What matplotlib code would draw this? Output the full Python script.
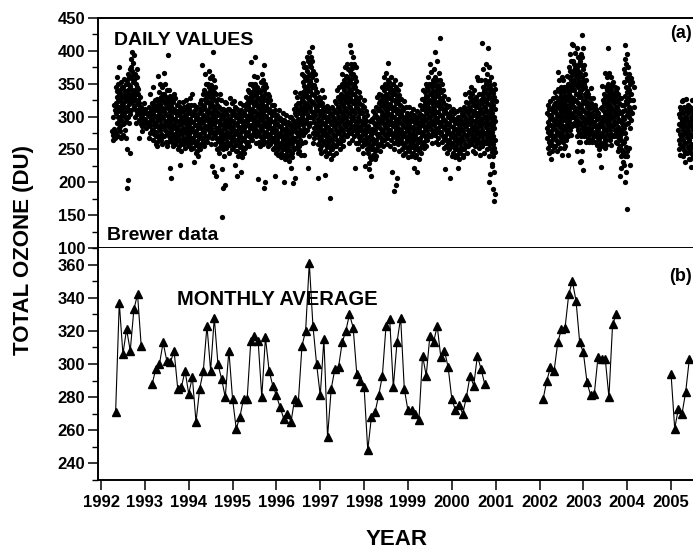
import numpy as np
import matplotlib
matplotlib.use("Agg")
import matplotlib.pyplot as plt
from matplotlib.ticker import MultipleLocator

plt.rcParams['font.family'] = ['Liberation Sans', 'DejaVu Sans']
plt.rcParams['font.weight'] = 'bold'

# ---------------- data ----------------
# Monthly averages (DU); None = missing month
monthly_a_start = (1992, 5)   # May 1992
monthly_a = [271, 337, 306, 321, 308, 333, 342, 311, None, None,
             288, 297, 300, 313, 302, 301, 308, 285, 286, 296, 282, 292,
             265, 285, 296, 323, 296, 328, 300, 291, 280, 308, 279, 261,
             268, 279, 279, 314, 317, 314, 280, 316, 296, 287, 281, 274,
             267, 270, 265, 279, 277, 311, 320, 361, 323, 300, 281, 315,
             256, 285, 297, 298, 313, 320, 330, 322, 294, 290, 286, 248,
             268, 271, 281, 293, 323, 327, 286, 313, 328, 285, 272, 272,
             270, 266, 305, 293, 317, 313, 323, 304, 308, 298, 279, 272,
             275, 270, 280, 293, 287, 305, 297, 288]
monthly_b_start = (2002, 2)   # Feb 2002
monthly_b = [279, 290, 298, 296, 313, 321, 322, 342, 350, 338, 313, 307,
             289, 281, 282, 304, 303, 303, 280, 324, 330]
monthly_c_start = (2005, 1)   # Jan 2005
monthly_c = [294, 261, 273, 270, 283, 303]

# Daily values (DU) as read from the dot cloud, grouped by month
daily_a_start = (1992, 4)     # Apr 1992 .. Dec 2000
daily_a = [
    [265, 268, 270, 272, 274, 276, 278, 281, 300, 310, 318],
    [290, 294, 300, 305, 309, 315, 320, 324, 330, 335, 339, 345, 350, 360, 375, 270, 276, 282],
    [285, 289, 295, 300, 304, 310, 315, 319, 325, 330, 334, 340, 345, 352, 272, 268, 278],
    [290, 294, 300, 305, 309, 315, 320, 324, 330, 335, 339, 345, 350, 357, 268, 280],
    [300, 304, 310, 315, 319, 325, 330, 334, 340, 345, 349, 355, 360, 365, 372, 290, 250, 244, 203, 191],
    [310, 316, 322, 328, 334, 340, 346, 352, 358, 364, 370, 376, 382, 388, 394, 398],
    [300, 304, 310, 315, 319, 325, 330, 334, 340, 345, 349, 355, 360, 365, 372, 290],
    [295, 300, 305, 310, 315, 320, 325, 330, 335, 288, 267, 342],
    [285, 290, 295, 300, 305, 310, 315, 320, 278],
    # 1993
    [282, 287, 292, 297, 302, 307, 312],
    [275, 280, 285, 290, 295, 300, 305, 310, 315, 320, 335, 268],
    [265, 270, 274, 280, 285, 289, 295, 300, 304, 310, 315, 319, 325, 345, 258],
    [262, 267, 271, 277, 282, 286, 292, 297, 301, 307, 312, 316, 322, 327, 338, 361, 255],
    [265, 270, 274, 280, 285, 289, 295, 300, 304, 310, 315, 319, 325, 330, 335, 345, 350, 258],
    [270, 275, 279, 285, 290, 294, 300, 305, 309, 315, 320, 324, 330, 335, 340, 350, 366, 262],
    [262, 267, 271, 277, 282, 286, 292, 297, 301, 307, 312, 316, 322, 327, 332, 340, 255, 221, 394],
    [262, 267, 271, 277, 282, 286, 292, 297, 301, 307, 312, 316, 322, 327, 335, 255, 206],
    [258, 263, 267, 273, 278, 282, 288, 293, 297, 303, 308, 312, 318, 328, 250],
    [255, 260, 264, 270, 275, 279, 285, 290, 294, 300, 305, 309, 315, 322, 248, 226],
    [258, 263, 267, 273, 278, 282, 288, 293, 297, 303, 308, 312, 315, 322, 252],
    [260, 265, 269, 275, 280, 284, 290, 295, 299, 305, 310, 314, 318, 325, 255],
    # 1994
    [258, 263, 267, 273, 278, 282, 288, 293, 297, 303, 308, 312, 318, 328, 335, 250],
    [252, 257, 261, 267, 272, 276, 282, 287, 291, 297, 302, 306, 310, 318, 245, 231],
    [248, 253, 257, 263, 268, 272, 278, 283, 287, 293, 298, 302, 305, 315, 320, 240],
    [258, 263, 267, 273, 278, 282, 288, 293, 297, 303, 308, 312, 318, 325, 335, 378, 250],
    [262, 267, 271, 277, 282, 286, 292, 297, 301, 307, 312, 316, 322, 327, 331, 337, 340, 350, 365, 255],
    [270, 275, 279, 285, 290, 294, 300, 305, 309, 315, 320, 324, 330, 335, 339, 345, 350, 358, 370, 262],
    [268, 273, 277, 283, 288, 292, 298, 303, 307, 313, 318, 322, 328, 333, 337, 343, 348, 355, 362, 258, 399, 225, 215],
    [258, 263, 267, 273, 278, 282, 288, 293, 297, 303, 308, 312, 318, 323, 327, 335, 345, 250, 210],
    [252, 257, 261, 267, 272, 276, 282, 287, 291, 297, 302, 306, 312, 315, 325, 335, 245],
    [250, 255, 259, 265, 270, 274, 280, 285, 289, 295, 300, 304, 310, 312, 322, 240, 220, 196, 191, 147],
    [252, 257, 261, 267, 272, 276, 282, 287, 291, 297, 302, 306, 312, 320, 245],
    [258, 263, 267, 273, 278, 282, 288, 293, 297, 303, 308, 312, 320, 328, 250],
    # 1995
    [255, 260, 264, 270, 275, 279, 285, 290, 294, 300, 305, 309, 315, 323, 248, 226],
    [248, 253, 257, 263, 268, 272, 278, 283, 287, 293, 298, 302, 305, 312, 320, 240, 210],
    [245, 250, 254, 260, 265, 269, 275, 280, 284, 290, 295, 299, 302, 310, 318, 238, 215],
    [252, 257, 261, 267, 272, 276, 282, 287, 291, 297, 302, 306, 312, 317, 320, 330, 245],
    [262, 267, 271, 277, 282, 286, 292, 297, 301, 307, 312, 316, 322, 327, 331, 337, 340, 350, 255],
    [272, 277, 281, 287, 292, 296, 302, 307, 311, 317, 322, 326, 332, 337, 341, 347, 350, 362, 265, 383],
    [270, 275, 279, 285, 290, 294, 300, 305, 309, 315, 320, 324, 330, 335, 339, 345, 350, 360, 260, 391],
    [262, 267, 271, 277, 282, 286, 292, 297, 301, 307, 312, 316, 322, 327, 331, 337, 340, 352, 255, 205],
    [265, 270, 274, 280, 285, 289, 295, 300, 304, 310, 315, 319, 325, 330, 334, 340, 345, 349, 355, 365, 378, 258, 201, 191],
    [262, 267, 271, 277, 282, 286, 292, 297, 301, 307, 312, 316, 322, 327, 331, 335, 345, 255],
    [258, 263, 267, 273, 278, 282, 288, 293, 297, 303, 308, 312, 318, 325, 250],
    [252, 257, 261, 267, 272, 276, 282, 287, 291, 297, 302, 306, 310, 318, 245, 210],
    # 1996
    [250, 255, 259, 265, 270, 274, 280, 285, 289, 295, 300, 302, 310, 242],
    [245, 250, 254, 260, 265, 269, 275, 280, 284, 290, 295, 298, 306, 238, 200],
    [242, 247, 251, 257, 262, 266, 272, 277, 281, 287, 292, 295, 302, 235],
    [240, 245, 249, 255, 260, 264, 270, 275, 279, 285, 290, 292, 300, 232, 222],
    [245, 250, 254, 260, 265, 269, 275, 280, 284, 290, 295, 300, 312, 238, 207, 199],
    [252, 257, 261, 267, 272, 276, 282, 287, 291, 297, 302, 306, 312, 317, 320, 330, 338, 245],
    [255, 260, 264, 270, 275, 279, 285, 290, 294, 300, 305, 309, 315, 320, 330, 336, 248, 242],
    [272, 277, 281, 287, 292, 296, 302, 307, 311, 317, 322, 326, 332, 337, 341, 347, 352, 356, 362, 365, 375, 382, 262, 242],
    [280, 285, 289, 295, 300, 304, 310, 315, 319, 325, 330, 334, 340, 345, 349, 355, 360, 364, 370, 375, 385, 390, 270, 221],
    [300, 305, 309, 315, 320, 324, 330, 335, 339, 345, 350, 354, 360, 365, 369, 375, 380, 384, 390, 398, 406, 290, 275],
    [268, 273, 277, 283, 288, 292, 298, 303, 307, 313, 318, 322, 328, 333, 337, 343, 348, 355, 365, 260],
    [258, 263, 267, 273, 278, 282, 288, 293, 297, 303, 308, 312, 318, 323, 327, 330, 338, 250, 206],
    # 1997
    [255, 260, 264, 270, 275, 279, 285, 290, 294, 300, 305, 309, 315, 320, 330, 340, 245],
    [248, 253, 257, 263, 268, 272, 278, 283, 287, 293, 298, 302, 308, 310, 316, 240, 211],
    [245, 250, 254, 260, 265, 269, 275, 280, 284, 290, 295, 299, 305, 312, 236, 176],
    [250, 255, 259, 265, 270, 274, 280, 285, 289, 295, 300, 304, 310, 315, 324, 242],
    [255, 260, 264, 270, 275, 279, 285, 290, 294, 300, 305, 309, 315, 320, 330, 340, 245],
    [260, 265, 269, 275, 280, 284, 290, 295, 299, 305, 310, 314, 320, 325, 329, 335, 345, 350, 250],
    [265, 270, 274, 280, 285, 289, 295, 300, 304, 310, 315, 319, 325, 330, 334, 340, 345, 349, 355, 365, 375, 255],
    [270, 275, 279, 285, 290, 294, 300, 305, 309, 315, 320, 324, 330, 335, 339, 345, 350, 354, 360, 362, 372, 380, 260],
    [275, 280, 284, 290, 295, 299, 305, 310, 314, 320, 325, 329, 335, 340, 344, 350, 355, 359, 365, 370, 374, 380, 390, 398, 409, 265],
    [270, 275, 279, 285, 290, 294, 300, 305, 309, 315, 320, 324, 330, 335, 339, 345, 350, 354, 360, 365, 375, 380, 260, 221],
    [260, 265, 269, 275, 280, 284, 290, 295, 299, 305, 310, 314, 320, 325, 330, 338, 250],
    [255, 260, 264, 270, 275, 279, 285, 290, 294, 300, 305, 309, 315, 318, 325, 245],
    # 1998
    [258, 263, 267, 273, 278, 282, 288, 293, 297, 303, 308, 314, 250, 225],
    [230, 235, 239, 245, 250, 254, 260, 265, 269, 275, 280, 285, 294, 220, 210],
    [242, 247, 251, 257, 262, 266, 272, 277, 281, 287, 292, 296, 300, 308, 235],
    [250, 255, 259, 265, 270, 274, 280, 285, 289, 295, 300, 304, 310, 315, 320, 330, 240],
    [258, 263, 267, 273, 278, 282, 288, 293, 297, 303, 308, 312, 318, 323, 327, 333, 335, 345, 248],
    [265, 270, 274, 280, 285, 289, 295, 300, 304, 310, 315, 319, 325, 330, 334, 340, 345, 350, 360, 255],
    [268, 273, 277, 283, 288, 292, 298, 303, 307, 313, 318, 322, 328, 333, 337, 343, 348, 352, 355, 366, 381, 258],
    [265, 270, 274, 280, 285, 289, 295, 300, 304, 310, 315, 319, 325, 330, 334, 340, 345, 350, 360, 255, 216],
    [260, 265, 269, 275, 280, 284, 290, 295, 299, 305, 310, 314, 320, 325, 329, 335, 340, 345, 355, 250, 196, 186],
    [258, 263, 267, 273, 278, 282, 288, 293, 297, 303, 308, 312, 318, 323, 327, 333, 340, 350, 248, 206],
    [250, 255, 259, 265, 270, 274, 280, 285, 289, 295, 300, 304, 310, 315, 323, 242],
    [245, 250, 254, 260, 265, 269, 275, 280, 284, 290, 295, 299, 305, 314, 238],
    # 1999
    [248, 253, 257, 263, 268, 272, 278, 283, 287, 293, 298, 302, 305, 314, 240],
    [245, 250, 254, 260, 265, 269, 275, 280, 284, 290, 295, 299, 302, 312, 238, 221],
    [242, 247, 251, 257, 262, 266, 272, 277, 281, 287, 292, 296, 300, 308, 235, 216],
    [252, 257, 261, 267, 272, 276, 282, 287, 291, 297, 302, 306, 312, 318, 326, 245],
    [262, 267, 271, 277, 282, 286, 292, 297, 301, 307, 312, 316, 322, 327, 331, 337, 340, 350, 252],
    [265, 270, 274, 280, 285, 289, 295, 300, 304, 310, 315, 319, 325, 330, 334, 340, 345, 350, 360, 255],
    [270, 275, 279, 285, 290, 294, 300, 305, 309, 315, 320, 324, 330, 335, 339, 345, 350, 355, 368, 380, 260],
    [272, 277, 281, 287, 292, 296, 302, 307, 311, 317, 322, 326, 332, 337, 341, 347, 352, 356, 360, 372, 262, 399],
    [268, 273, 277, 283, 288, 292, 298, 303, 307, 313, 318, 322, 328, 333, 337, 343, 348, 355, 366, 385, 420, 258],
    [262, 267, 271, 277, 282, 286, 292, 297, 301, 307, 312, 316, 322, 327, 331, 340, 350, 252],
    [255, 260, 264, 270, 275, 279, 285, 290, 294, 300, 305, 309, 315, 318, 326, 245, 220],
    [250, 255, 259, 265, 270, 274, 280, 285, 289, 295, 300, 304, 308, 316, 240, 206],
    # 2000
    [245, 250, 254, 260, 265, 269, 275, 280, 284, 290, 295, 299, 305, 312, 238],
    [242, 247, 251, 257, 262, 266, 272, 277, 281, 287, 292, 296, 300, 308, 235, 222],
    [245, 250, 254, 260, 265, 269, 275, 280, 284, 290, 295, 299, 305, 312, 238],
    [250, 255, 259, 265, 270, 274, 280, 285, 289, 295, 300, 304, 310, 315, 322, 334, 242],
    [255, 260, 264, 270, 275, 279, 285, 290, 294, 300, 305, 309, 315, 320, 330, 338, 245],
    [258, 263, 267, 273, 278, 282, 288, 293, 297, 303, 308, 312, 318, 323, 327, 335, 345, 248],
    [255, 260, 264, 270, 275, 279, 285, 290, 294, 300, 305, 309, 315, 320, 324, 330, 340, 360, 245],
    [252, 257, 261, 267, 272, 276, 282, 287, 291, 297, 302, 306, 312, 317, 325, 335, 355, 242],
    [255, 260, 264, 270, 275, 279, 285, 290, 294, 300, 305, 309, 315, 320, 324, 330, 335, 339, 345, 355, 372, 412, 245],
    [260, 265, 269, 275, 280, 284, 290, 295, 299, 305, 310, 314, 320, 325, 329, 335, 340, 344, 350, 355, 365, 380, 405, 250],
    [240, 246, 252, 258, 264, 270, 276, 282, 288, 294, 300, 306, 312, 318, 324, 330, 336, 342, 348, 354, 360, 375, 225, 212, 200],
    [240, 246, 252, 258, 264, 270, 276, 282, 288, 294, 300, 306, 312, 318, 324, 330, 336, 342, 350, 228, 215, 190, 182, 172],
]
daily_b_start = (2002, 3)     # Mar 2002 .. Feb 2004
daily_b = [
    [252, 257, 261, 267, 272, 276, 282, 287, 291, 297, 302, 306, 312, 318, 323, 245],
    [248, 253, 257, 263, 268, 272, 278, 283, 287, 293, 298, 302, 308, 313, 318, 328, 236],
    [255, 260, 264, 270, 275, 279, 285, 290, 294, 300, 305, 309, 315, 320, 324, 330, 338, 247],
    [262, 267, 271, 277, 282, 286, 292, 297, 301, 307, 312, 316, 322, 327, 331, 337, 342, 345, 355, 368, 252],
    [262, 267, 271, 277, 282, 286, 292, 297, 301, 307, 312, 316, 322, 327, 331, 337, 342, 345, 355, 360, 252, 242],
    [265, 270, 274, 280, 285, 289, 295, 300, 304, 310, 315, 319, 325, 330, 334, 340, 345, 350, 362, 255, 242],
    [280, 285, 289, 295, 300, 304, 310, 315, 319, 325, 330, 334, 340, 345, 349, 355, 360, 364, 370, 375, 385, 395, 411, 272],
    [290, 295, 299, 305, 310, 314, 320, 325, 329, 335, 340, 344, 350, 355, 359, 365, 370, 374, 380, 385, 397, 409, 287],
    [270, 275, 279, 285, 290, 294, 300, 305, 309, 315, 320, 324, 330, 335, 339, 345, 350, 354, 360, 365, 369, 375, 380, 390, 404, 262, 247, 231],
    [270, 276, 282, 288, 294, 300, 306, 312, 318, 324, 330, 336, 342, 348, 354, 360, 366, 372, 378, 384, 390, 395, 405, 424, 262, 247, 232, 219],
    [270, 275, 279, 285, 290, 294, 300, 305, 309, 315, 320, 324, 330, 335, 339, 345, 350, 355, 365, 378, 262],
    [268, 273, 277, 283, 288, 292, 298, 303, 307, 313, 318, 322, 328, 335, 343, 262],
    [266, 271, 275, 281, 286, 290, 296, 301, 305, 311, 316, 320, 328, 262],
    [262, 267, 271, 277, 282, 286, 292, 297, 301, 307, 312, 318, 257],
    [250, 255, 259, 265, 270, 274, 280, 285, 289, 295, 300, 305, 313, 242, 224],
    [260, 265, 269, 275, 280, 284, 290, 295, 299, 305, 310, 314, 320, 325, 329, 335, 346, 252],
    [265, 270, 274, 280, 285, 289, 295, 300, 304, 310, 315, 319, 325, 330, 334, 340, 345, 350, 360, 366, 404, 257],
    [265, 270, 274, 280, 285, 289, 295, 300, 304, 310, 315, 319, 325, 330, 334, 340, 345, 350, 360, 366, 257],
    [270, 275, 279, 285, 290, 294, 300, 305, 309, 315, 320, 324, 330, 335, 339, 345, 353, 262],
    [260, 265, 269, 275, 280, 284, 290, 295, 299, 305, 310, 314, 320, 325, 329, 335, 343, 252, 247],
    [240, 245, 249, 255, 260, 264, 270, 275, 279, 285, 290, 294, 300, 305, 309, 318, 328, 231, 222, 210],
    [240, 247, 254, 261, 268, 275, 282, 289, 296, 303, 310, 317, 324, 331, 338, 345, 352, 359, 366, 373, 380, 387, 395, 409, 226, 216, 201, 159],
    [290, 295, 299, 305, 310, 314, 320, 325, 329, 335, 340, 344, 350, 355, 359, 365, 375, 282, 252, 240, 226],
    [305, 315, 325, 335, 345, 353],
]
daily_c_start = (2005, 3)     # Mar 2005 ..
daily_c = [
    [250, 255, 259, 265, 270, 274, 280, 285, 289, 295, 300, 304, 310, 315, 324, 242],
    [240, 245, 249, 255, 260, 264, 270, 275, 279, 285, 290, 294, 300, 305, 309, 315, 325, 231],
    [245, 250, 254, 260, 265, 269, 275, 280, 284, 290, 295, 299, 305, 310, 314, 318, 327, 236],
    [235, 240, 244, 250, 255, 259, 265, 270, 274, 280, 285, 289, 295, 300, 304, 310, 315, 325, 223],
]

years = list(range(1992, 2006))


def month_x(start, n):
    y0, m0 = start
    return y0 + (m0 - 1 + np.arange(n)) / 12.0


def daily_xy(start, groups):
    y0, m0 = start
    xs, ys = [], []
    for k, vals in enumerate(groups):
        n = len(vals)
        frac = ((np.arange(n) + 0.5) * 0.618034) % 1.0   # days spread over the month
        xs.extend(y0 + (m0 - 1 + k + frac) / 12.0)
        ys.extend(vals)
    return np.array(xs), np.array(ys, dtype=float)


# ---------------- figure ----------------
W, H = 693, 549
fig = plt.figure(figsize=(W / 100, H / 100), dpi=100)

L = 98 / W
ax1 = fig.add_axes([L, 1 - 248 / H, 1 - L, (248 - 18) / H])
ax2 = fig.add_axes([L, 1 - 480 / H, 1 - L, (480 - 248) / H], sharex=ax1)

xlim = (1992 - 3 / 43.85, 1992 + 592 / 43.85)

for start, groups in [(daily_a_start, daily_a), (daily_b_start, daily_b),
                      (daily_c_start, daily_c)]:
    x, y = daily_xy(start, groups)
    ax1.plot(x, y, 'o', color='black', ms=3.8, mew=0)

for start, vals in [(monthly_a_start, monthly_a), (monthly_b_start, monthly_b),
                    (monthly_c_start, monthly_c)]:
    v = np.array(vals, dtype=float)
    ax2.plot(month_x(start, len(v)), v, '-^', color='black', lw=0.8,
             ms=5.4, mec='black', mfc='black')

ax1.set_xlim(*xlim)
ax1.set_ylim(100, 450)
ax2.set_ylim(230, 370)

for ax in (ax1, ax2):
    ax.spines['right'].set_visible(False)
    for s in ('left', 'bottom', 'top'):
        ax.spines[s].set_linewidth(1.4)
    ax.tick_params(axis='y', which='major', direction='out', length=7,
                   width=1.1, labelsize=12, pad=2)
    ax.tick_params(axis='y', which='minor', direction='out', length=4,
                   width=1.0)
    ax.tick_params(axis='x', which='major', direction='out', length=7,
                   width=1.1, labelsize=12, pad=4)

ax2.spines['top'].set_visible(False)
ax1.yaxis.set_major_locator(MultipleLocator(50))
ax1.yaxis.set_minor_locator(MultipleLocator(25))
ax2.set_yticks([240, 260, 280, 300, 320, 340, 360])
ax2.yaxis.set_minor_locator(MultipleLocator(10))
ax2.set_xticks(years)
ax2.set_xticklabels([str(y) for y in years])
ax1.tick_params(axis='x', which='both', bottom=False, labelbottom=False)
ax2.xaxis.set_minor_locator(plt.NullLocator())
for ax in (ax1, ax2):
    for lab in ax.get_yticklabels() + ax.get_xticklabels():
        lab.set_fontweight('bold')


def ftext(x, y, s, **kw):
    fig.text(x / W, 1 - y / H, s, fontweight='bold', **kw)


ftext(114, 45, 'DAILY VALUES', fontsize=14, ha='left', va='baseline')
ftext(107, 240, 'Brewer data', fontsize=14, ha='left', va='baseline')
ftext(692, 38, '(a)', fontsize=13, ha='right', va='baseline')
ftext(177, 305, 'MONTHLY AVERAGE', fontsize=14.5, ha='left', va='baseline')
ftext(692, 281, '(b)', fontsize=13, ha='right', va='baseline')
ftext(397, 545, 'YEAR', fontsize=16, ha='center', va='baseline')
ftext(24, 250, 'TOTAL OZONE (DU)', fontsize=16, ha='center', va='center',
      rotation=90)

fig.savefig('out.png', dpi=100)
